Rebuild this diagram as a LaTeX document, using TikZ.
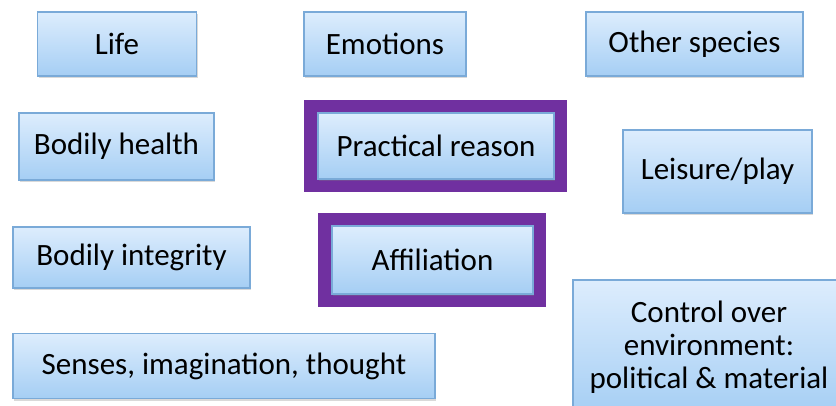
\documentclass[tikz,border=0pt]{standalone}
\usepackage{fontspec}
\setmainfont{Carlito}
\usepackage{tikz}
\usetikzlibrary{shadows}
\usetikzlibrary{positioning}
\definecolor{cblue}{HTML}{7AAAD8}
\definecolor{ctop}{HTML}{DDEDFD}
\definecolor{cbot}{HTML}{A5CEF4}
\definecolor{cpurple}{HTML}{7030A0}
\tikzset{capbox/.style = {draw=cblue, line width=1.2pt, top color=ctop, bottom color=cbot,
                          inner sep=0pt, align=center,
                          font=\fontsize{31}{33}\selectfont,
                          drop shadow={opacity=0.3, shadow xshift=1pt, shadow yshift=-2pt}},
         frame/.style = {draw=cpurple, line width=14pt, inner sep=0pt}}

\begin{document}
\begin{tikzpicture}[x=1pt, y=-1pt]
    \clip (0, 0) rectangle (836, 405);

    \node [frame, minimum width=249, minimum height=78] (practicalframe) at (435.5, 146) {};
    \node [frame, minimum width=214, minimum height=80] (affiliationframe) at (432, 260) {};

    \node [capbox, minimum width=159, minimum height=64] (life) at (117, 44) {Life};
    \node [capbox, minimum width=162, minimum height=64] (emotions) at (385, 44) {Emotions};
    \node [capbox, minimum width=217, minimum height=64] (species) at (694.5, 44) {Other species};

    \node [capbox, minimum width=195, minimum height=67] (health) at (116.5, 146.5) {Bodily health};
    \node [capbox, minimum width=236, minimum height=66] (practical) at (436, 146) {Practical reason};
    \node [capbox, minimum width=189, minimum height=83] (leisure) at (717.5, 171.5) {Leisure/play};

    \node [capbox, minimum width=237, minimum height=61] (integrity) at (131.5, 257.5) {Bodily integrity};
    \node [capbox, minimum width=201, minimum height=68] (affiliation) at (432.5, 260) {Affiliation};

    \node [capbox, minimum width=422, minimum height=65] (senses) at (224, 366) {Senses, imagination, thought};
    \node [capbox, minimum width=272, minimum height=135] (control) at (709, 347.5)
      {Control over\\ environment:\\ political \& material};
  \end{tikzpicture}
\end{document}
